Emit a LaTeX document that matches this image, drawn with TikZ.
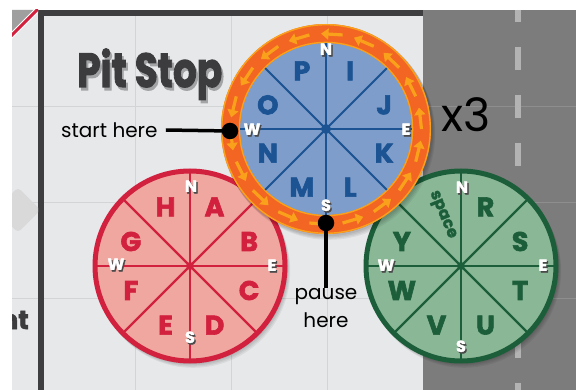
\documentclass[tikz,border=0pt]{standalone}
\usepackage{fontspec}
\setmainfont{Poppins}
\newfontfamily\heavyfont{Poppins}[BoldFeatures={FakeBold=2.2}]
\usetikzlibrary{arrows.meta}
\definecolor{board}{HTML}{E7E8EA}
\definecolor{gridc}{HTML}{D3D4D6}
\definecolor{asphalt}{HTML}{7C7C7C}
\definecolor{agrid}{HTML}{8E8E8E}
\definecolor{lane}{HTML}{B3B3B3}
\definecolor{framec}{HTML}{3E3E40}
\definecolor{pinkfill}{HTML}{EFA7A0}
\definecolor{pinkline}{HTML}{D2203F}
\definecolor{bluefill}{HTML}{7E9DCA}
\definecolor{blueline}{HTML}{1B5393}
\definecolor{ringorange}{HTML}{F26522}
\definecolor{ringlight}{HTML}{F9A11B}
\definecolor{greenfill}{HTML}{8AB796}
\definecolor{greenline}{HTML}{1D5E3A}
\definecolor{titlec}{HTML}{3C3C3E}
\definecolor{titleshadow}{HTML}{A3A4A6}
\definecolor{cmpshadow}{HTML}{4A4A4A}
\newcommand\wheeldraw[4]{%
  \foreach \d in {1,...,4} \fill[black, opacity=0.06] ([shift={(\d*0.8,\d*1.2)}]#1) circle (#2+2);
  \fill[#3] (#1) circle (#2);
  \foreach \a in {0,45,...,315} \draw[#4, line width=2.2] (#1) -- ([shift={(\a:#2)}]#1);
  \draw[#4, line width=5] (#1) circle (#2);
  \fill[#4] (#1) circle (4);}
% text with a drop shadow, in one box
\newcommand\shtext[4]{\makebox[0pt][l]{\hspace{#3}\raisebox{-#4}{\textcolor{#1}{#2}}}#2}
% heavier strokes for the title letters
\newcommand\heavier[1]{\special{pdf:literal direct 2 Tr 1.6 w}#1\special{pdf:literal direct 0 Tr}}
\tikzset{
  wl/.style={font=\heavyfont\bfseries\fontsize{27}{27}\selectfont, inner sep=0},
  cmp/.style={font=\heavyfont\bfseries\fontsize{16}{16}\selectfont, text=white, inner sep=0},
  lbl/.style={font=\fontsize{20}{28}\selectfont, inner sep=0, text=black},
  conn/.style={line width=3.5, black},
  dotnode/.style={circle, fill=black, minimum size=16.5, inner sep=0},
  ringarrow/.style={ringlight, line width=3.2, -{Triangle[length=7.5,width=11]}},
}
\begin{document}
\begin{tikzpicture}[x=1pt,y=-1pt]
\useasboundingbox (0,0) rectangle (576,390);
\fill[white] (0,0) rectangle (576,390);
\fill[board] (12,10) rectangle (423,390);
\fill[asphalt] (423,10) rectangle (576,390);
\foreach \x in {135,231,327} \draw[gridc, line width=0.8] (\x,10) -- (\x,390);
\foreach \y in {106,202,298} {\draw[gridc, line width=0.8] (12,\y) -- (423,\y);
  \draw[agrid, line width=0.8] (423,\y) -- (576,\y);}
\draw[lane, line width=6.5, dash pattern=on 23.5 off 24.5, dash phase=11.3] (518,10) -- (518,390);
\fill[framec] (38,10) rectangle (44,390);
\fill[framec] (38,10) rectangle (423,16);
\begin{scope}
  \clip (12,10) rectangle (38,390);
  \fill[gray!75] (12,10) -- (37,10) -- (12,35) -- cycle;
  \draw[white, line width=5] (10,37) -- (39,8);
  \draw[pinkline, line width=3] (10,37) -- (39,8);
  \fill[gray!30, rounded corners=4, rotate around={45:(18,210)}] (2,194) rectangle (34,226);
  \node[font=\heavyfont\bfseries\fontsize{26}{26}\selectfont, text=titlec, anchor=base east, inner sep=0] (frag) at (29,329) {nt};
\end{scope}
% title
\node[font=\heavyfont\bfseries\fontsize{48}{48}\selectfont, text=titlec, anchor=base west, inner sep=0] (title) at (77,87) {\scalebox{0.78}[1]{\heavier{\shtext{titleshadow}{Pit Stop}{2.5pt}{3pt}}}};
% pink wheel
\coordinate (pc) at (190,266);
\wheeldraw{pc}{95}{pinkfill}{pinkline}
\foreach \t/\a in {H/-112.5, A/-67.5, B/-22.5, C/22.5, D/67.5, E/112.5, F/157.5, G/202.5}
  \node[wl, text=pinkline] (p\t) at ([shift={(\a:64)}]pc) {\t};
\node[cmp] (pN) at (191,187) {\shtext{cmpshadow}{N}{1.3pt}{1.6pt}};
\node[cmp] (pE) at (272,266) {\shtext{cmpshadow}{E}{1.3pt}{1.6pt}};
\node[cmp] (pW) at (116,265) {\shtext{cmpshadow}{W}{1.3pt}{1.6pt}};
\node[cmp] (pS) at (190,338) {\shtext{cmpshadow}{S}{1.3pt}{1.6pt}};
% green wheel
\coordinate (gc) at (461,266);
\wheeldraw{gc}{95}{greenfill}{greenline}
\foreach \t/\a in {R/-67.5, S/-22.5, T/22.5, U/67.5, V/112.5, W/157.5, Y/202.5}
  \node[wl, text=greenline] (g\t) at ([shift={(\a:64)}]gc) {\t};
\node[font=\heavyfont\bfseries\fontsize{16}{16}\selectfont, text=greenline, rotate=-67.5, inner sep=0] (gspace) at (442,215) {space};
\node[cmp] (gN) at (462,188) {\shtext{cmpshadow}{N}{1.3pt}{1.6pt}};
\node[cmp] (gE) at (543,266) {\shtext{cmpshadow}{E}{1.3pt}{1.6pt}};
\node[cmp] (gW) at (386,266) {\shtext{cmpshadow}{W}{1.3pt}{1.6pt}};
\node[cmp] (gS) at (461,347) {\shtext{cmpshadow}{S}{1.3pt}{1.6pt}};
% blue wheel
\coordinate (bc) at (326,129);
\foreach \d in {1,...,4} \fill[black, opacity=0.06] ([shift={(\d*0.8,\d*1.2)}]bc) circle (106);
\fill[ringorange] (bc) circle (105);
\draw[ringlight, line width=1.4] (bc) circle (104.3);
\foreach \a in {0,20,...,340}
  \draw[ringarrow] ([shift={(\a:95.5)}]bc) -- ([shift={(\a-13:95.5)}]bc);
\fill[bluefill] (bc) circle (86);
\draw[ringlight, line width=1.4] (bc) circle (86.6);
\foreach \a in {0,45,...,315} \draw[blueline, line width=2] (bc) -- ([shift={(\a:86)}]bc);
\fill[blueline] (bc) circle (5);
\foreach \t/\a in {P/-112.5, I/-67.5, J/-22.5, K/22.5, L/67.5, M/112.5, N/157.5, O/202.5}
  \node[wl, text=blueline] (b\t) at ([shift={(\a:63)}]bc) {\t};
\node[cmp] (bN) at (326,50) {\shtext{cmpshadow}{N}{1.3pt}{1.6pt}};
\node[cmp] (bE) at (406,130) {\shtext{cmpshadow}{E}{1.3pt}{1.6pt}};
\node[cmp] (bW) at (252,130) {\shtext{cmpshadow}{W}{1.3pt}{1.6pt}};
\node[cmp] (bS) at (326,206) {\shtext{cmpshadow}{S}{1.3pt}{1.6pt}};
% labels and connectors
\node[dotnode] (sdot) at (230,131) {};
\node[dotnode] (pdot) at (326,223) {};
\node[lbl, anchor=west] (start) at (61,130) {start here};
\draw[conn] ([xshift=8]start.east) -- (sdot.center);
\node[lbl, anchor=north, align=center] (pause) at (326,288) {pause\\here};
\draw[conn] (pdot.center) -- (pause.north);
\node[font=\fontsize{46}{46}\selectfont, inner sep=0, text=black] (x3) at (466,115) {x3};
\end{tikzpicture}
\end{document}
